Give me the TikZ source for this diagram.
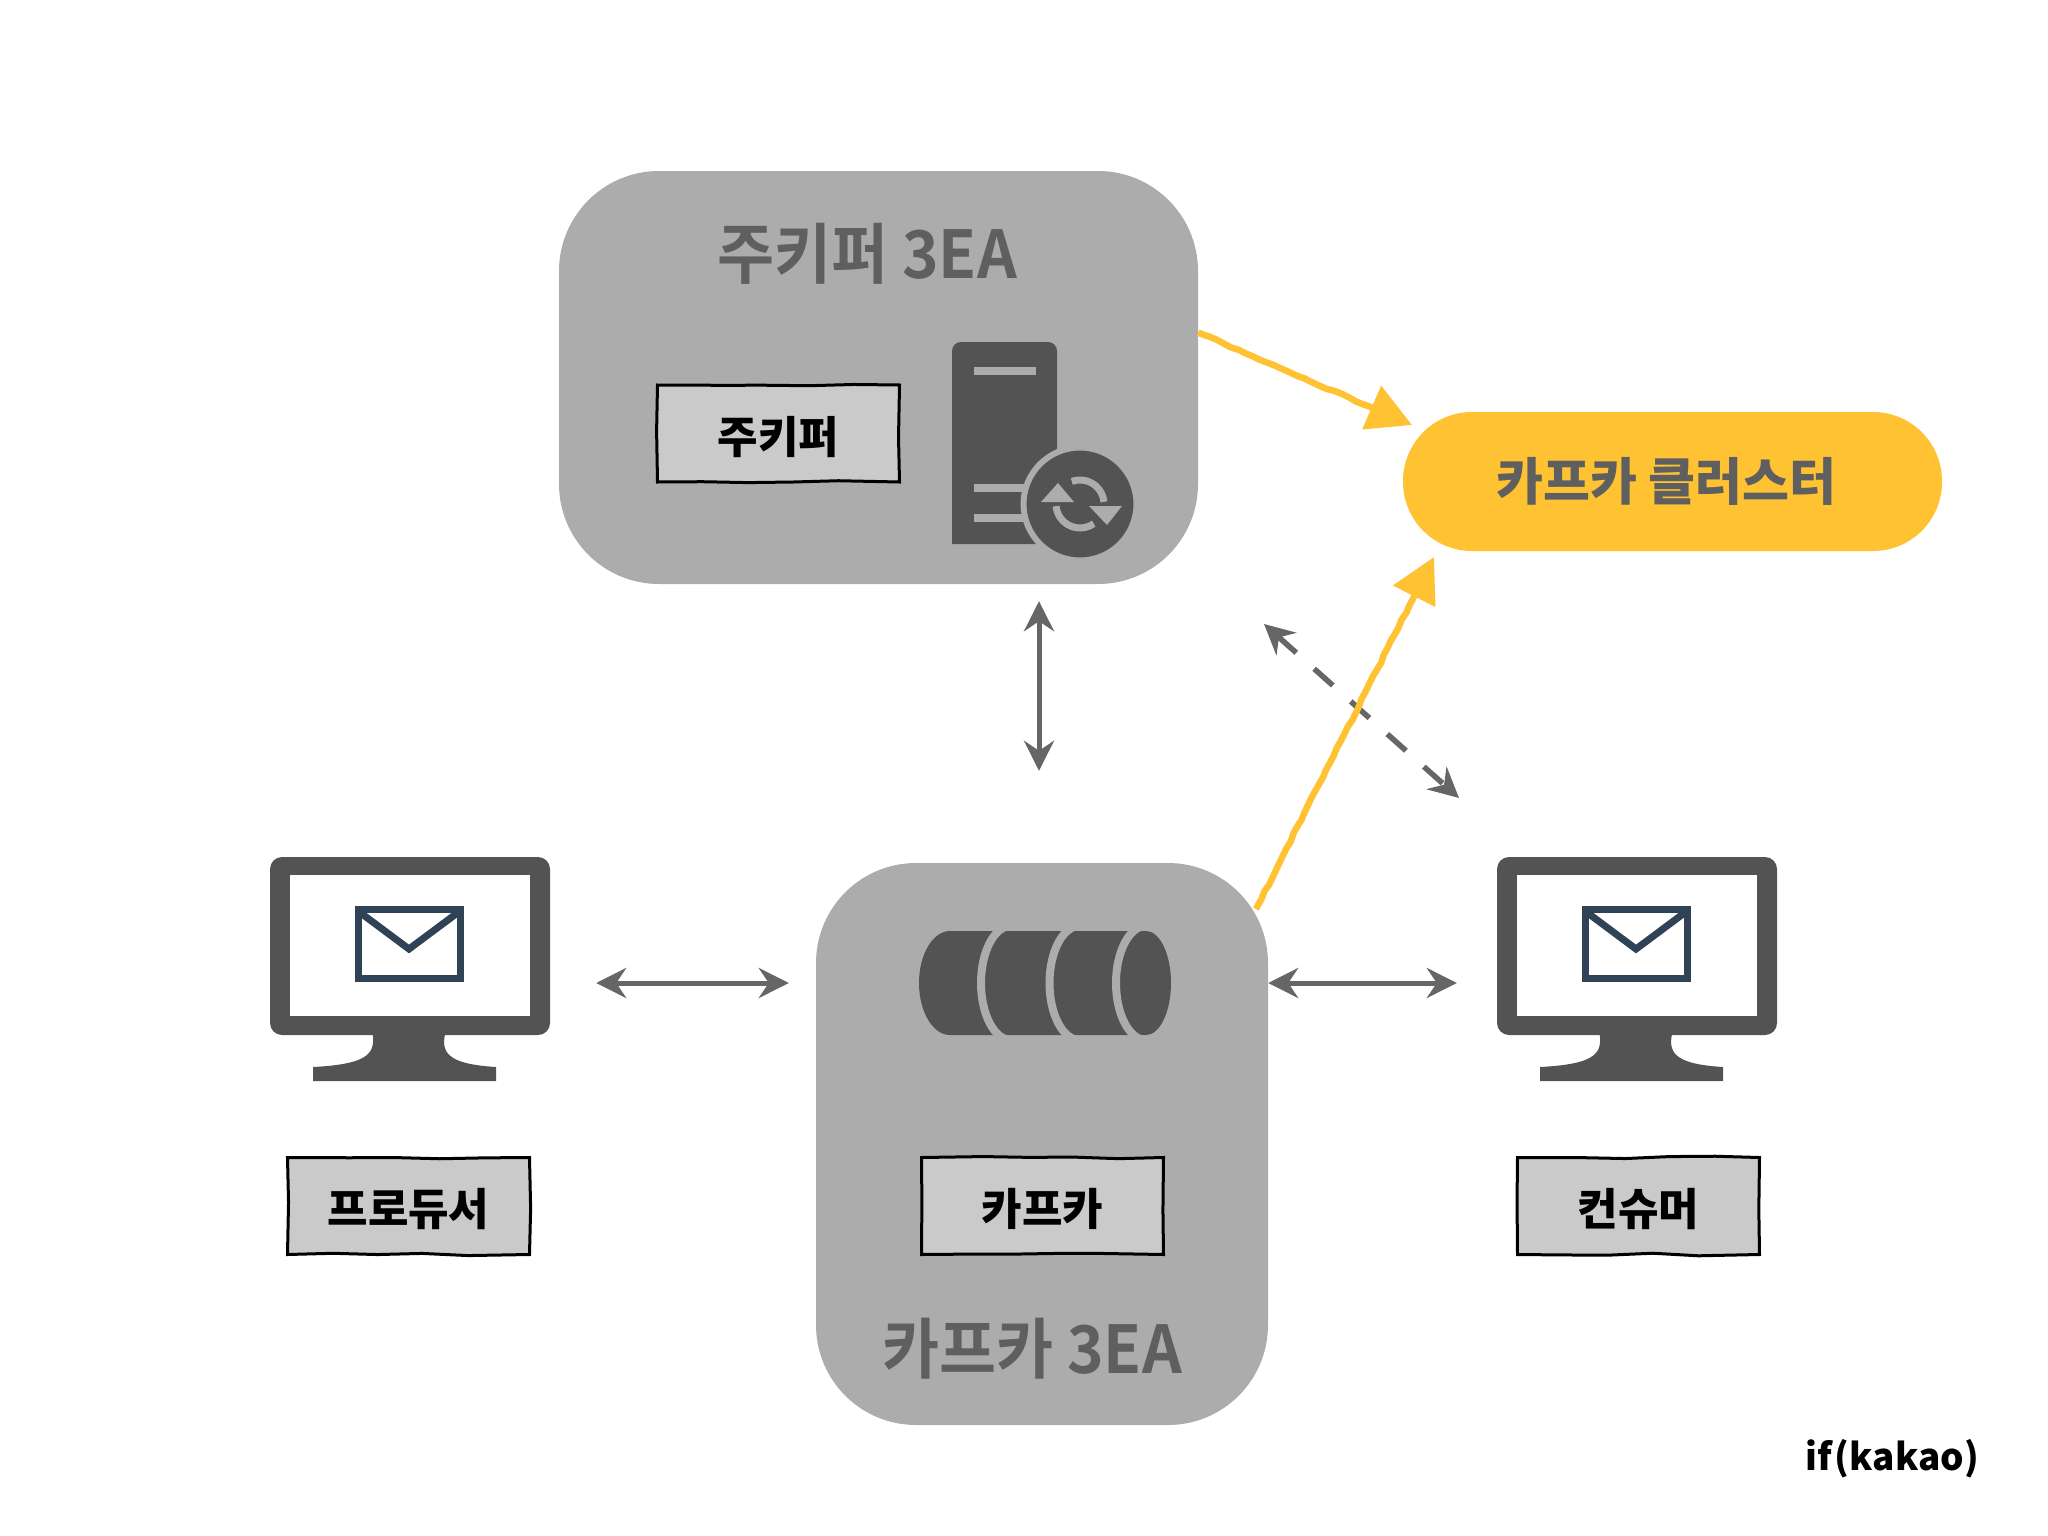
\documentclass[tikz,border=0pt]{standalone}
\usepackage{fontspec}
\setmainfont{Noto Sans CJK KR}
\newfontfamily\condfont[FakeStretch=0.94]{Noto Sans CJK KR Bold}
\usetikzlibrary{arrows.meta,calc,decorations.pathmorphing}
\definecolor{boxgray}{HTML}{ACACAC}
\definecolor{labelgray}{HTML}{CACACA}
\definecolor{icongray}{HTML}{535353}
\definecolor{titlegray}{HTML}{5F5F5F}
\definecolor{arrowgray}{HTML}{666666}
\definecolor{clusteryellow}{HTML}{FFC233}
\definecolor{mailblue}{HTML}{2F4256}
\tikzset{
	groupbox/.style={fill=boxgray, rounded corners=100pt, inner sep=0pt},
	labelbox/.style={draw=black, fill=labelgray, line width=3pt, minimum width=242pt, minimum height=97pt, inner sep=0pt,
		decorate, decoration={random steps, segment length=45pt, amplitude=1.3pt},
		text height=39pt, text depth=0pt, font=\fontsize{44}{44}\selectfont\bfseries},
	titletext/.style={text=titlegray, inner sep=0pt, font=\fontsize{66}{66}\condfont},
	bothways/.style={draw=arrowgray, line width=5pt, {Stealth[length=30pt, width=30pt, inset=10pt]}-{Stealth[length=30pt, width=30pt, inset=10pt]}},
	roughline/.style={draw=clusteryellow, line width=6.5pt, -{Triangle[length=44pt, width=46pt]},
		decorate, decoration={random steps, segment length=8pt, amplitude=0.8pt, pre=lineto, pre length=4pt, post=lineto, post length=48pt}},
}
\begin{document}
\begin{tikzpicture}[x=1pt, y=-1pt]
	\pgfmathsetseed{7}

	\useasboundingbox (0, 0) rectangle (2048, 1536);

	% groups
	\draw node[groupbox, minimum width=639pt, minimum height=413pt] (zkgroup) at (878.5, 377.5) {} ;

	\draw node[groupbox, minimum width=452pt, minimum height=562pt] (kafkagroup) at (1042, 1144) {} ;

	\draw node[fill=clusteryellow, rounded corners=69pt, minimum width=539pt, minimum height=139pt, inner sep=0pt,
		text=titlegray, font=\fontsize{51}{51}\selectfont\bfseries] (cluster) at (1672.5, 481.5) {카프카 클러스터\hspace*{12pt}} ;

	\draw node[titletext] (zktitle) at (867, 254) {주키퍼 3EA} ;

	\draw node[titletext] (kafkatitle) at (1032, 1349) {카프카 3EA} ;

	% labels
	\draw node[labelbox] (zklabel) at (778.5, 433.5) {주키퍼} ;

	\draw node[labelbox] (kafkalabel) at (1042.5, 1206) {카프카} ;

	\draw node[labelbox] (prodlabel) at (408.5, 1206) {프로듀서} ;

	\draw node[labelbox] (conslabel) at (1638.5, 1206) {컨슈머} ;

	% server
	\fill[icongray] (952, 544) [rounded corners=9pt] -- (952, 342) -- (1057, 342) [sharp corners] -- (1057, 544) -- cycle;

	\fill[boxgray] (974, 367) rectangle (1036, 375);

	\fill[boxgray] (974, 484) rectangle (1036, 492);

	\fill[boxgray] (974, 514) rectangle (1036, 522);

	\draw node[circle, fill=icongray, draw=boxgray, line width=6pt, minimum size=113pt, inner sep=0pt] (sync) at (1080, 504) {} ;

	\draw[boxgray, line width=7pt] ($(sync.center)+(110:24pt)$) arc[start angle=110, end angle=5, radius=24pt];

	\fill[boxgray] (1089, 506) -- (1122, 506) -- (1107, 525) -- cycle;

	\draw[boxgray, line width=7pt] ($(sync.center)+(-55:24pt)$) arc[start angle=-55, end angle=-175, radius=24pt];

	\fill[boxgray] (1041, 502) -- (1074, 502) -- (1058, 483) -- cycle;

	% log
	\draw node[minimum width=252pt, minimum height=104pt, inner sep=0pt] (log) at (1045, 983) {} ;

	\fill[icongray] (950, 931) arc[start angle=90, end angle=270, x radius=31pt, y radius=52pt] -- (1146, 1035) arc[start angle=-90, end angle=90, x radius=25pt, y radius=52pt] -- cycle;

	\foreach \cx in {1011, 1079.5, 1146}
		\draw[boxgray, line width=8pt] (\cx, 926) arc[start angle=90, end angle=270, x radius=30pt, y radius=57pt];

	% monitors
	\foreach \mx/\mon in {0/prodmon, 1227/consmon} {
		\draw node[fill=icongray, rounded corners=12pt, minimum width=280pt, minimum height=178pt, inner sep=0pt] (\mon) at (410+\mx, 946) {} ;

		\fill[white] (290+\mx, 875) rectangle (530+\mx, 1016);

		\fill[icongray] (372+\mx, 1030) .. controls (376+\mx, 1052) and (372+\mx, 1064) .. (313+\mx, 1067) -- (313+\mx, 1081) -- (496+\mx, 1081) -- (496+\mx, 1067) .. controls (446+\mx, 1064) and (440+\mx, 1052) .. (446+\mx, 1030) -- cycle;

		\draw[mailblue, line width=7pt] (358+\mx, 909) rectangle (460+\mx, 978);

		\draw[mailblue, line width=7pt] (358+\mx, 911) -- (409+\mx, 949) -- (460+\mx, 911);
	}

	% arrows
	\draw[bothways, shorten <=92pt, shorten >=17pt] ($(kafkagroup.north)+(-3, 0)$) -- ($(zkgroup.south -| kafkagroup.north)+(-3, 0)$);

	\draw[bothways, shorten <=46pt, shorten >=27pt] (prodmon.east |- log) -- (kafkagroup.west |- log);

	\draw[bothways, shorten >=40pt] (kafkagroup.east |- log) -- (consmon.west |- log);

	\coordinate (dashstart) at (1264, 624);

	\coordinate (dashend) at (1459, 798);

	\draw[bothways, line width=5.5pt, dash pattern=on 25pt off 24pt] (dashstart) -- (dashend);

	\coordinate (clusterin) at (1412, 425);

	\coordinate (kafkaout) at (1256, 909);

	\coordinate (clusterunder) at (1434, 557);

	\draw[roughline] (zkgroup.8.5) -- (clusterin);

	\draw[roughline] (kafkaout) -- (clusterunder);

	% mark
	\draw node[inner sep=0pt, font=\fontsize{37}{37}\selectfont\bfseries] (mark) at (1892, 1459) {if\kern3pt(kakao)} ;

\end{tikzpicture}
\end{document}
